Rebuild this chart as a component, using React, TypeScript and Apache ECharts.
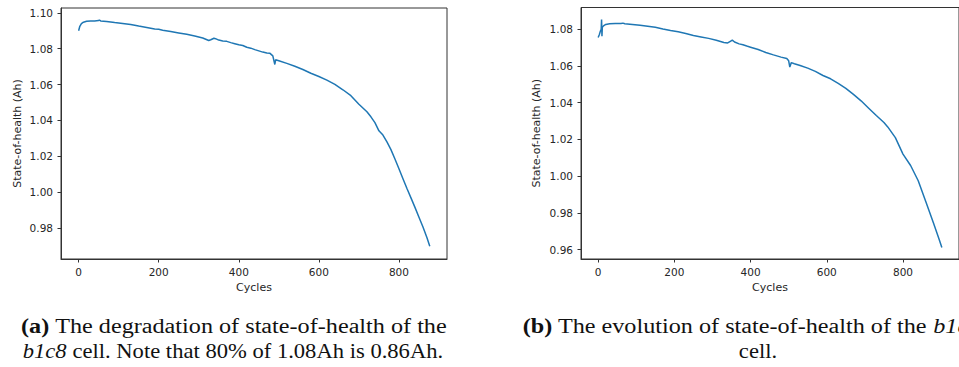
import React, { useEffect, useRef } from "react";
import * as echarts from "echarts";

// ---- Data: chart (a) b1c8 ----
const cyclesA = [0, 3, 7, 12, 20, 30, 40, 50, 52, 55, 70, 90, 110, 130, 150, 170, 190, 200, 210, 230, 250, 270, 290, 310, 325, 330, 338, 342, 350, 360, 370, 380, 390, 400, 410, 420, 430, 440, 450, 460, 470, 478, 485, 490, 492, 500, 520, 540, 560, 580, 600, 620, 640, 660, 680, 700, 720, 730, 740, 750, 760, 770, 780, 790, 800, 810, 820, 830, 840, 850, 860, 870, 877];
const sohA = [1.0900, 1.0925, 1.0940, 1.0948, 1.0953, 1.0955, 1.0955, 1.0957, 1.0960, 1.0955, 1.0952, 1.0946, 1.0941, 1.0935, 1.0926, 1.0918, 1.0910, 1.0908, 1.0903, 1.0896, 1.0888, 1.0880, 1.0871, 1.0860, 1.0846, 1.0850, 1.0858, 1.0856, 1.0848, 1.0843, 1.0841, 1.0834, 1.0828, 1.0822, 1.0818, 1.0808, 1.0803, 1.0795, 1.0788, 1.0781, 1.0776, 1.0774, 1.0760, 1.0712, 1.0738, 1.0733, 1.0718, 1.0702, 1.0684, 1.0663, 1.0645, 1.0625, 1.0601, 1.0571, 1.0538, 1.0490, 1.0448, 1.0420, 1.0388, 1.0342, 1.0318, 1.0280, 1.0237, 1.0185, 1.0130, 1.0075, 1.0020, 0.9968, 0.9915, 0.9860, 0.9805, 0.9745, 0.9698];

// ---- Data: chart (b) ----
const cyclesB = [0, 3, 6, 8, 9, 10, 11, 14, 20, 30, 45, 60, 65, 70, 90, 110, 130, 150, 170, 190, 210, 230, 250, 270, 290, 310, 330, 340, 348, 352, 358, 370, 380, 390, 400, 420, 440, 460, 480, 495, 500, 503, 507, 515, 530, 550, 570, 590, 610, 630, 650, 670, 690, 710, 730, 750, 760, 780, 800, 820, 840, 860, 880, 895, 902];
const sohB = [1.0755, 1.0770, 1.0790, 1.0800, 1.0853, 1.0762, 1.0810, 1.0818, 1.0826, 1.0830, 1.0831, 1.0831, 1.0833, 1.0830, 1.0826, 1.0821, 1.0816, 1.0810, 1.0801, 1.0793, 1.0786, 1.0777, 1.0766, 1.0758, 1.0750, 1.0740, 1.0728, 1.0725, 1.0735, 1.0740, 1.0730, 1.0720, 1.0715, 1.0708, 1.0702, 1.0689, 1.0673, 1.0660, 1.0648, 1.0640, 1.0628, 1.0594, 1.0618, 1.0612, 1.0602, 1.0588, 1.0570, 1.0548, 1.0530, 1.0505, 1.0478, 1.0445, 1.0410, 1.0370, 1.0330, 1.0292, 1.0268, 1.0210, 1.0120, 1.0058, 0.9975, 0.9860, 0.9745, 0.9655, 0.9612];

// ---- Tick labels ----
const xTicks = [0, 200, 400, 600, 800];
const yTicksA = [0.98, 1.0, 1.02, 1.04, 1.06, 1.08, 1.1];
const yTicksB = [0.96, 0.98, 1.0, 1.02, 1.04, 1.06, 1.08];

const xName = "Cycles";
const yName = "State-of-health (Ah)";

const TEXT = "#262626";
const SPINE = "#333";
const LINE = "#1f77b4";
const FONT = "DejaVu Sans";
const SERIF = "Liberation Serif";

function xAxisCfg(idx: number, min: number, max: number) {
  return {
    type: "value",
    gridIndex: idx,
    min,
    max,
    name: xName,
    nameLocation: "middle",
    nameGap: 23,
    nameTextStyle: { color: TEXT, fontSize: 11, fontFamily: FONT },
    axisLine: { show: true, onZero: false, lineStyle: { color: SPINE, width: 1 } },
    axisTick: { show: true, inside: false, length: 3.5, customValues: xTicks, lineStyle: { color: SPINE, width: 1 } },
    axisLabel: { customValues: xTicks, margin: 7, color: TEXT, fontSize: 10.5, fontFamily: FONT },
    splitLine: { show: false },
  };
}

function yAxisCfg(idx: number, min: number, max: number, ticks: number[]) {
  return {
    type: "value",
    gridIndex: idx,
    min,
    max,
    name: yName,
    nameLocation: "middle",
    nameGap: 38,
    nameRotate: 90,
    nameTextStyle: { color: TEXT, fontSize: 11, fontFamily: FONT },
    axisLine: { show: true, onZero: false, lineStyle: { color: SPINE, width: 1 } },
    axisTick: { show: true, inside: false, length: 3.5, customValues: ticks, lineStyle: { color: SPINE, width: 1 } },
    axisLabel: {
      customValues: ticks,
      margin: 8,
      color: TEXT,
      fontSize: 10.5,
      fontFamily: FONT,
      formatter: (v: number) => v.toFixed(2),
    },
    splitLine: { show: false },
  };
}

export default function App() {
  const ref = useRef<HTMLDivElement>(null);
  useEffect(() => {
    if (!ref.current) return;
    const chart = echarts.init(ref.current, null, { renderer: "svg" });
    const dataA = cyclesA.map((c, i) => [c, sohA[i]]);
    const dataB = cyclesB.map((c, i) => [c, sohB[i]]);
    chart.setOption({
      animation: false,
      backgroundColor: "#fff",
      grid: [
        { left: 61, top: 8, width: 386, height: 251, show: true, borderColor: SPINE, borderWidth: 1, backgroundColor: "transparent" },
        { left: 581, top: 7.5, width: 385, height: 251.5, show: true, borderColor: SPINE, borderWidth: 1, backgroundColor: "transparent" },
      ],
      xAxis: [xAxisCfg(0, -44, 920), xAxisCfg(1, -45, 947)],
      yAxis: [yAxisCfg(0, 0.9627, 1.1027, yTicksA), { ...yAxisCfg(1, 0.9549, 1.0918, yTicksB), nameGap: 39 }],
      series: [
        {
          type: "line",
          xAxisIndex: 0,
          yAxisIndex: 0,
          data: dataA,
          showSymbol: false,
          lineStyle: { color: LINE, width: 1.5 },
          itemStyle: { color: LINE },
        },
        {
          type: "line",
          xAxisIndex: 1,
          yAxisIndex: 1,
          data: dataB,
          showSymbol: false,
          lineStyle: { color: LINE, width: 1.5 },
          itemStyle: { color: LINE },
        },
      ],
      graphic: [
        {
          type: "text",
          x: 234,
          y: 326,
          scaleX: 1.21,
          style: {
            text: "{b|(a)} The degradation of state-of-health of the",
            textAlign: "center",
            textVerticalAlign: "middle",
            fontFamily: SERIF,
            fontSize: 20,
            fill: "#111",
            rich: { b: { fontWeight: "bold", fontFamily: SERIF, fontSize: 20, fill: "#111" } },
          },
        },
        {
          type: "text",
          x: 233,
          y: 351,
          scaleX: 1.13,
          style: {
            text: "{i|b1c8} cell. Note that 80% of 1.08Ah is 0.86Ah.",
            textAlign: "center",
            textVerticalAlign: "middle",
            fontFamily: SERIF,
            fontSize: 20,
            fill: "#111",
            rich: { i: { fontStyle: "italic", fontFamily: SERIF, fontSize: 20, fill: "#111" } },
          },
        },
        {
          type: "text",
          x: 522.7,
          y: 326,
          scaleX: 1.21,
          style: {
            text: "{b|(b)} The evolution of state-of-health of the {i|b1c9}",
            textAlign: "left",
            textVerticalAlign: "middle",
            fontFamily: SERIF,
            fontSize: 20,
            fill: "#111",
            rich: {
              b: { fontWeight: "bold", fontFamily: SERIF, fontSize: 20, fill: "#111" },
              i: { fontStyle: "italic", fontFamily: SERIF, fontSize: 20, fill: "#111" },
            },
          },
        },
        {
          type: "text",
          x: 758,
          y: 351,
          scaleX: 1.13,
          style: {
            text: "cell.",
            textAlign: "center",
            textVerticalAlign: "middle",
            fontFamily: SERIF,
            fontSize: 20,
            fill: "#111",
          },
        },
      ],
    });
    return () => chart.dispose();
  }, []);
  return (
    <div
      ref={ref}
      style={{ position: "absolute", left: 0, top: 0, width: 959, height: 367, background: "#fff" }}
    />
  );
}
